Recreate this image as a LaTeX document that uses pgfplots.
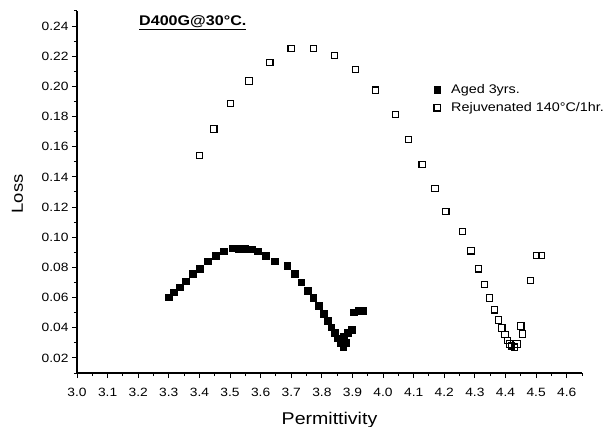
\documentclass[border=0pt]{standalone}
\usepackage{fontspec}
\setmainfont{Liberation Sans}[FakeStretch=1.15]
\usepackage{pgfplots}
\pgfplotsset{compat=1.18}
\begin{document}
\begin{tikzpicture}
\path[use as bounding box] (0,0) rectangle (614bp,427bp);
\begin{axis}[
  at={(77bp,54bp)}, anchor=south west,
  scale only axis, width=505bp, height=362bp,
  xmin=3.0, xmax=4.65, ymin=0.01, ymax=0.25,
  axis lines*=left,
  axis line style={line width=1.1bp},
  every tick/.style={black, line width=1bp},
  tick align=outside,
  major tick length=5bp, minor tick length=3bp,
  xtick={3.0,3.1,3.2,3.3,3.4,3.5,3.6,3.7,3.8,3.9,4.0,4.1,4.2,4.3,4.4,4.5,4.6},
  minor xtick={3.05,3.15,3.25,3.35,3.45,3.55,3.65,3.75,3.85,3.95,4.05,4.15,4.25,4.35,4.45,4.55,4.65},
  ytick={0.02,0.04,0.06,0.08,0.10,0.12,0.14,0.16,0.18,0.20,0.22,0.24},
  minor ytick={0.01,0.03,0.05,0.07,0.09,0.11,0.13,0.15,0.17,0.19,0.21,0.23,0.25},
  tick label style={font=\fontsize{12bp}{14bp}\selectfont},
  xticklabel style={yshift=-7bp, /pgf/number format/.cd, fixed, fixed zerofill, precision=1, assume math mode=true},
  yticklabel style={/pgf/number format/.cd, fixed, fixed zerofill, precision=2, assume math mode=true},
  scaled ticks=false,
  xlabel={Permittivity}, ylabel={Loss},
  xlabel style={font=\fontsize{17bp}{20bp}\selectfont, at={(axis description cs:0.5,0)}, anchor=center, yshift=-47bp},
  ylabel style={font=\fontsize{16bp}{19bp}\selectfont, at={(axis description cs:-0.118,0.495)}, anchor=center},
  legend style={at={(axis description cs:0.701,0.803)}, anchor=north west, draw=none, fill=none, inner sep=0pt, row sep=3.5bp,
    font=\fontsize{12.5bp}{15bp}\selectfont, cells={anchor=west}},
  legend image code/.code={\path[draw=none, fill=none] (0bp,-2bp) rectangle (18bp,2bp); \draw[mark repeat=2,mark phase=2] plot coordinates {(0bp,0bp) (6bp,0bp) (18bp,0bp)};},
  clip=false,
]
\addplot[only marks, mark=square*, mark size=3.4bp, mark options={fill=black, draw=black, line width=0.5bp}] coordinates {
(3.300,0.0602) (3.317,0.0635) (3.336,0.0669) (3.355,0.0708) (3.379,0.0757)
(3.402,0.0791) (3.428,0.0841) (3.453,0.0879) (3.480,0.0907) (3.508,0.0927)
(3.529,0.0923) (3.550,0.0923) (3.572,0.0920) (3.591,0.0907) (3.616,0.0879)
(3.646,0.0841) (3.687,0.0812) (3.711,0.0757) (3.733,0.0702) (3.755,0.0647)
(3.772,0.0598) (3.791,0.0545) (3.805,0.0492) (3.820,0.0448) (3.831,0.0403)
(3.842,0.0365) (3.852,0.0330) (3.862,0.0300) (3.870,0.0275) (3.878,0.0300)
(3.872,0.0340) (3.885,0.0365) (3.897,0.0385) (3.905,0.0503) (3.920,0.0512)
(3.935,0.0512)
};
\addlegendentry{Aged 3yrs.}
\addplot[only marks, mark=square, mark size=3.2bp, mark options={fill=white, draw=black, line width=1.1bp}] coordinates {
(3.400,0.1541) (3.447,0.1718) (3.502,0.1887) (3.562,0.2036) (3.630,0.2160)
(3.700,0.2250) (3.772,0.2250) (3.842,0.2205) (3.910,0.2111) (3.976,0.1975)
(4.040,0.1814) (4.083,0.1648) (4.128,0.1482) (4.170,0.1324) (4.205,0.1172)
(4.260,0.1038) (4.287,0.0910) (4.311,0.0791) (4.331,0.0686) (4.348,0.0598)
(4.364,0.0519) (4.377,0.0452) (4.388,0.0399) (4.398,0.0355) (4.406,0.0317)
(4.413,0.0293) (4.420,0.0280) (4.429,0.0271) (4.438,0.0293) (4.450,0.0412)
(4.455,0.0359) (4.482,0.0713) (4.501,0.0879) (4.518,0.0879)
};
\addlegendentry{Rejuvenated 140°C/1hr.}
\node[anchor=base west, inner sep=0pt, font=\fontsize{14bp}{16bp}\selectfont\bfseries] at (axis description cs:0.1228,0.9586) {\underline{D400G@30°C.}};
\end{axis}
\end{tikzpicture}
\end{document}
